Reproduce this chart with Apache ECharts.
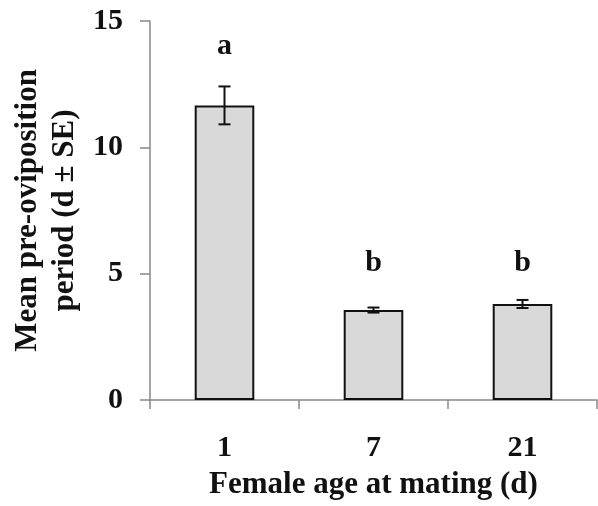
<!DOCTYPE html>
<html><head><meta charset="utf-8">
<script src="https://cdn.jsdelivr.net/npm/echarts@6/dist/echarts.min.js"></script>
<style>html,body{margin:0;padding:0;background:#fff}#c{width:598px;height:506px}</style>
</head><body><div id="c"></div>
<script>
const categories = ['1', '7', '21'];
const means = [11.66, 3.56, 3.80];
const se = [0.75, 0.10, 0.16];
const letters = ['a', 'b', 'b'];
const letterY = [14.0, 5.4, 5.4];
const yTicks = [0, 5, 10, 15];

const font = 'Liberation Serif';
const chart = echarts.init(document.getElementById('c'));
chart.setOption({
  animation: false,
  backgroundColor: '#fff',
  grid: { left: 150, right: 1, top: 21, bottom: 106, containLabel: false, outerBoundsMode: 'none' },
  xAxis: {
    type: 'category', data: categories,
    name: 'Female age at mating (d)', nameLocation: 'middle', nameGap: 69, nameMoveOverlap: false,
    nameTextStyle: { fontFamily: font, fontWeight: 'bold', fontSize: 31, color: '#111' },
    axisLine: { lineStyle: { color: '#888', width: 1.5 } },
    axisTick: { show: true, length: 9, lineStyle: { color: '#888', width: 1.5 } },
    axisLabel: { fontFamily: font, fontWeight: 'bold', fontSize: 30, color: '#111', margin: 33 }
  },
  yAxis: {
    type: 'value', min: yTicks[0], max: yTicks[yTicks.length - 1], interval: 5,
    name: 'Mean pre-oviposition\nperiod (d \u00b1 SE)', nameLocation: 'middle', nameGap: 67, nameMoveOverlap: false,
    nameTextStyle: { fontFamily: font, fontWeight: 'bold', fontSize: 31, color: '#111', lineHeight: 37 },
    axisLine: { show: true, lineStyle: { color: '#888', width: 1.5 } },
    axisTick: { show: true, length: 10, lineStyle: { color: '#888', width: 1.5 } },
    splitLine: { show: false },
    axisLabel: { fontFamily: font, fontWeight: 'bold', fontSize: 30, color: '#111', margin: 27 }
  },
  series: [
    {
      type: 'bar', data: means, barWidth: '40%',
      itemStyle: { color: '#d9d9d9', borderColor: '#111', borderWidth: 2 }
    },
    {
      type: 'custom',
      data: means.map((m, i) => [i, m - se[i], m + se[i]]),
      renderItem: function (params, api) {
        const x = api.value(0);
        const lo = api.coord([x, api.value(1)]);
        const hi = api.coord([x, api.value(2)]);
        const hw = 6;
        const st = { stroke: '#111', lineWidth: 2 };
        return { type: 'group', children: [
          { type: 'line', shape: { x1: lo[0], y1: lo[1], x2: hi[0], y2: hi[1] }, style: st },
          { type: 'line', shape: { x1: lo[0] - hw, y1: lo[1], x2: lo[0] + hw, y2: lo[1] }, style: st },
          { type: 'line', shape: { x1: hi[0] - hw, y1: hi[1], x2: hi[0] + hw, y2: hi[1] }, style: st }
        ]};
      },
      z: 5
    },
    {
      type: 'custom',
      data: letters.map((l, i) => [i, letterY[i], l]),
      renderItem: function (params, api) {
        const p = api.coord([api.value(0), api.value(1)]);
        return { type: 'text', style: { x: p[0], y: p[1], text: letters[params.dataIndex],
          font: 'bold 30px "Liberation Serif"', fill: '#111', align: 'center', verticalAlign: 'middle' } };
      }
    }
  ]
});
</script></body></html>
